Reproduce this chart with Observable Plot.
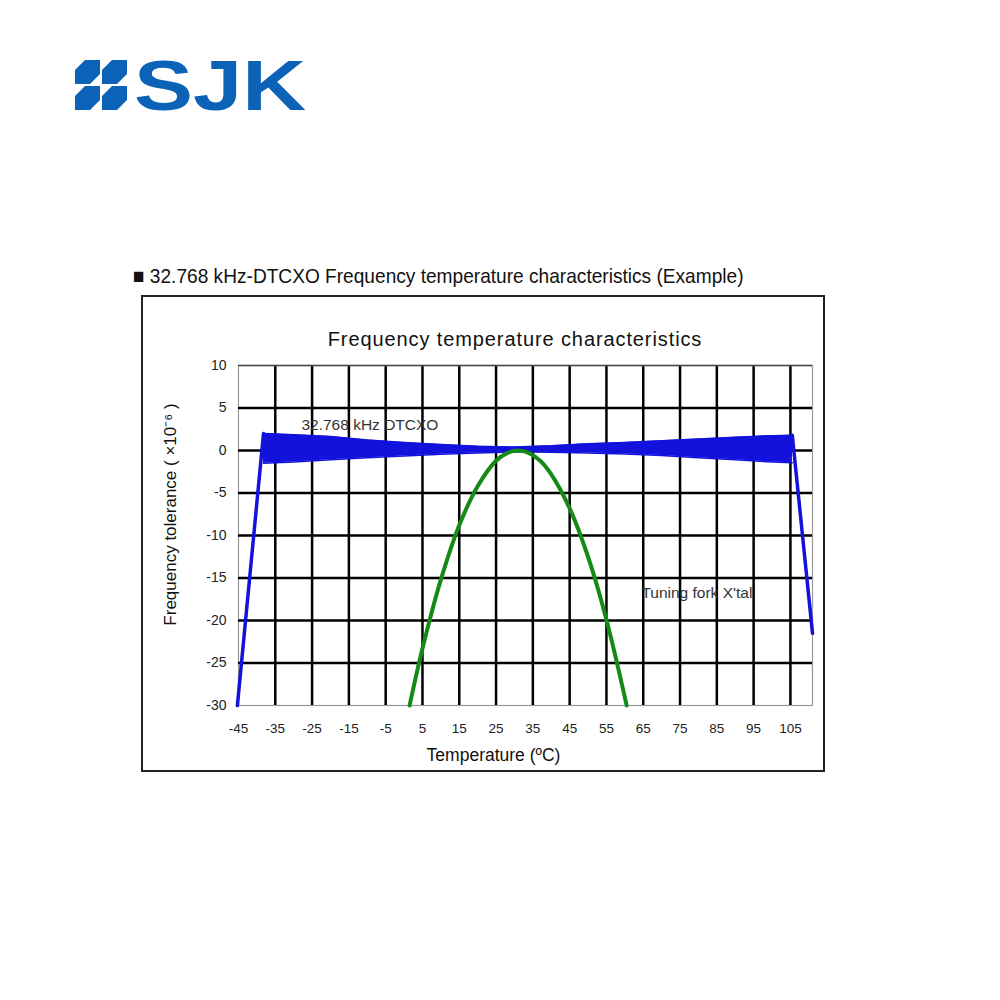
<!DOCTYPE html>
<html><head><meta charset="utf-8">
<script src="https://cdn.jsdelivr.net/npm/d3@7"></script>
<script src="https://cdn.jsdelivr.net/npm/@observablehq/plot@0.6"></script>
<style>
body{margin:0;background:#fff;font-family:"Liberation Sans",Arial,sans-serif;}
#page{position:relative;width:1000px;height:1000px;overflow:hidden;}
#logo{position:absolute;left:0;top:0;}
#title{position:absolute;left:133px;top:264px;font-size:21px;color:#111;white-space:nowrap;transform:scaleX(0.91);transform-origin:left center;}
#chart{position:absolute;left:141px;top:295px;width:684px;height:477px;}
#box{position:absolute;left:141px;top:295px;width:684px;height:477px;box-sizing:border-box;border:2px solid #222;pointer-events:none;}
#inner{position:absolute;left:515px;top:328px;transform:translateX(-50%);font-size:20px;letter-spacing:0.9px;color:#111;white-space:nowrap;}
</style></head>
<body><div id="page">
<svg id="logo" width="340" height="130">
  <g fill="#0c62b6">
    <polygon points="85,60 100,60 100,74 90,84 75,84 75,70"/>
    <polygon points="112,60 127,60 127,74 117,84 102,84 102,70"/>
    <polygon points="85,86 100,86 100,100 90,110 75,110 75,96"/>
    <polygon points="112,86 127,86 127,100 117,110 102,110 102,96"/>
    <text x="134" y="110" font-family="Liberation Sans, Arial, sans-serif" font-weight="bold" font-size="70" textLength="172" lengthAdjust="spacingAndGlyphs">SJK</text>
  </g>
</svg>
<div id="title">■ 32.768 kHz-DTCXO Frequency temperature characteristics (Example)</div>
<div id="chart"></div>
<div id="box"></div>
<div id="inner">Frequency temperature characteristics</div>
</div>
<script>
// Tick values
const xTicks = [-45,-35,-25,-15,-5,5,15,25,35,45,55,65,75,85,95,105];
const xGrid = [-35,-25,-15,-5,5,15,25,35,45,55,65,75,85,95,105];
const yTicks = [-30,-25,-20,-15,-10,-5,0,5,10];
const yGrid = [-25,-20,-15,-10,-5,0,5];

// DTCXO band (temperature, upper, lower)
const bandTemp  = [-38.2, -30, -20, -10, 0, 10, 20, 30, 40, 50, 60, 70, 80, 90, 100, 105.5];
const bandUpper = [2.0, 1.85, 1.65, 1.25, 0.95, 0.7, 0.5, 0.4, 0.55, 0.8, 0.95, 1.15, 1.35, 1.55, 1.75, 1.8];
const bandLower = [-1.5, -1.35, -1.1, -0.85, -0.65, -0.45, -0.3, -0.15, -0.2, -0.3, -0.4, -0.6, -0.85, -1.1, -1.35, -1.45];

// DTCXO out-of-range segments
const riseTemp = [-45.3, -38.2];
const riseVal  = [-30, 2.0];
const dropTemp = [105.5, 111];
const dropVal  = [1.8, -21.5];

// Tuning fork crystal
const forkTemp = [1.5, 5, 10, 15, 20, 25, 28, 31, 34, 37, 40, 45, 50, 55, 60.5];
const forkVal  = [-30, -23.3, -15.2, -8.8, -4.2, -1.2, -0.3, 0, -0.3, -1.2, -2.8, -6.8, -12.5, -19.9, -30];

// Annotations
const labelText = ["32.768 kHz DTCXO", "Tuning fork X'tal"];
const labelTemp = [-27.9, 64.5];
const labelVal  = [3.05, -16.8];

const blue = "#1212dc";
const green = "#168a16";

const band = bandTemp.map((t,i)=>({t, hi:bandUpper[i], lo:bandLower[i]}));
const rise = riseTemp.map((t,i)=>({t, v:riseVal[i]}));
const drop = dropTemp.map((t,i)=>({t, v:dropVal[i]}));
const fork = forkTemp.map((t,i)=>({t, v:forkVal[i]}));
const labels = labelText.map((s,i)=>({s, t:labelTemp[i], v:labelVal[i]}));

const plot = Plot.plot({
  width:684, height:477,
  marginLeft:97, marginRight:13, marginTop:70, marginBottom:67,
  style:{fontFamily:"Liberation Sans, Arial, sans-serif", fontSize:"13px", color:"#222", background:"transparent"},
  x:{domain:[-45,111], axis:null},
  y:{domain:[-30,10], axis:null},
  marks:[
    Plot.frame({stroke:"#999", strokeWidth:1.2}),
    Plot.ruleX(xGrid, {stroke:"#000", strokeWidth:2.5}),
    Plot.ruleY(yGrid, {stroke:"#000", strokeWidth:2.5}),
    Plot.ruleY([10], {stroke:"#444", strokeWidth:1.5}),
    Plot.axisX(xTicks, {tickSize:0, tickPadding:18, label:null, fontSize:13.5, tickFormat:d=>String(d)}),
    Plot.axisY(yTicks, {tickSize:0, tickPadding:12, label:null, fontSize:14, tickFormat:d=>String(d)}),
    Plot.text(["Temperature (ºC)"], {frameAnchor:"bottom", dx:-32, dy:55, fontSize:17.5, fill:"#111"}),
    Plot.text(["Frequency tolerance ( ×10⁻⁶ )"], {frameAnchor:"left", textAnchor:"middle", rotate:-90, dx:-68, dy:-21, fontSize:17, fill:"#111"}),
    Plot.areaY(band, {x:"t", y1:"lo", y2:"hi", fill:blue}),
    Plot.line(band, {x:"t", y:"hi", stroke:blue, strokeWidth:1.5}),
    Plot.line(band, {x:"t", y:"lo", stroke:blue, strokeWidth:1.5}),
    Plot.line(rise, {x:"t", y:"v", stroke:blue, strokeWidth:3.5}),
    Plot.line(drop, {x:"t", y:"v", stroke:blue, strokeWidth:3.5}),
    Plot.line(fork, {x:"t", y:"v", stroke:green, strokeWidth:4, curve:"catmull-rom"}),
    Plot.text(labels, {x:"t", y:"v", text:"s", textAnchor:"start", fontSize:15.5, fill:"#333"})
  ]
});
document.getElementById("chart").appendChild(plot);
</script>
</body></html>
